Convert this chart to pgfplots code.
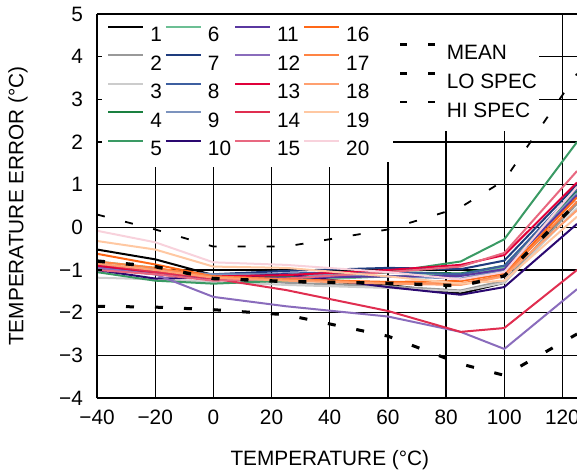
\documentclass[border=0pt]{standalone}
\usepackage{fontspec}
\setmainfont{Liberation Sans}
\usepackage{pgfplots}
\usepackage{pgfplotstable}
\pgfplotsset{compat=1.18}

\definecolor{c1}{HTML}{000000}
\definecolor{c2}{HTML}{999999}
\definecolor{c3}{HTML}{CCCCCC}
\definecolor{c4}{HTML}{1A8040}
\definecolor{c5}{HTML}{3A9A64}
\definecolor{c6}{HTML}{6CBF94}
\definecolor{c7}{HTML}{1E3C7E}
\definecolor{c8}{HTML}{3D5FA0}
\definecolor{c9}{HTML}{7C93BE}
\definecolor{c10}{HTML}{2A0870}
\definecolor{c11}{HTML}{5A38A0}
\definecolor{c12}{HTML}{8A6CBC}
\definecolor{c13}{HTML}{E0003A}
\definecolor{c14}{HTML}{E02E50}
\definecolor{c15}{HTML}{E86880}
\definecolor{c16}{HTML}{FF6818}
\definecolor{c17}{HTML}{FF8444}
\definecolor{c18}{HTML}{FFA070}
\definecolor{c19}{HTML}{FFC8A2}
\definecolor{c20}{HTML}{F8D2DC}

% temperature error of 20 parts, plus mean and spec limits
\pgfplotstableread{
T    s1    s2    s3    s4    s5    s6    s7    s8    s9    s10   s11   s12   s13   s14   s15   s16   s17   s18   s19   s20   mean  lo    hi
-40  -0.52 -0.95 -1.18 -0.90 -1.05 -0.80 -0.90 -0.95 -0.88 -1.00 -0.95 -0.95 -0.90 -0.85 -1.00 -0.62 -0.80 -0.85 -0.32 -0.08 -0.79 -1.85 0.30
-20  -0.75 -1.05 -1.22 -1.05 -1.25 -0.95 -1.00 -1.05 -1.00 -1.20 -1.10 -1.10 -1.05 -1.05 -1.10 -0.87 -0.95 -1.00 -0.52 -0.35 -0.92 -1.87 -0.05
0    -1.12 -1.20 -1.28 -1.15 -1.32 -1.20 -1.10 -1.12 -1.10 -1.18 -1.20 -1.63 -1.15 -1.20 -1.25 -1.15 -1.15 -1.18 -0.92 -0.82 -1.20 -1.93 -0.45
25   -1.22 -1.30 -1.35 -1.15 -1.25 -1.25 -1.02 -1.08 -1.10 -1.10 -1.18 -1.85 -1.12 -1.47 -1.20 -1.22 -1.22 -1.25 -0.95 -0.88 -1.27 -2.05 -0.45
60   -1.35 -1.38 -1.42 -1.05 -1.05 -1.15 -0.95 -1.05 -1.15 -1.40 -1.15 -2.09 -1.00 -1.96 -1.05 -1.28 -1.30 -1.32 -1.15 -1.05 -1.31 -2.55 -0.05
85   -1.55 -1.48 -1.50 -1.08 -0.80 -1.10 -0.98 -1.10 -1.20 -1.58 -1.14 -2.45 -0.88 -2.45 -0.92 -1.26 -1.32 -1.35 -1.32 -1.22 -1.37 -3.20 0.47
100  -1.30 -1.25 -1.30 -0.90 -0.28 -0.95 -0.78 -0.90 -1.00 -1.40 -0.98 -2.85 -0.65 -2.36 -0.60 -1.08 -1.12 -1.15 -1.25 -1.05 -1.14 -3.47 1.10
125  0.60  0.55  0.45  0.85  2.00  0.80  1.00  0.90  0.80  0.08  0.75  -1.45 1.05  -1.00 1.32  0.70  0.60  0.40  0.25  0.95  0.58  -2.50 3.60
}\errdata

\begin{document}
\begin{tikzpicture}[font=\fontsize{10.4}{12}\selectfont]
\pgfplotsset{
  common/.style={width=240pt, height=192pt, scale only axis,
    xmin=-40, xmax=125, ymin=-4, ymax=5,
    xtick={-40,-20,0,20,40,60,80,100,120}, ytick={-4,-3,-2,-1,0,1,2,3,4,5}},
}
\begin{axis}[common,
  grid=major, grid style={black, line width=0.6pt},
  major tick length=0pt, axis line style={draw=none},
  xticklabels={−40,−20,0,20,40,60,80,100,120},
  yticklabels={−4,−3,−2,−1,0,1,2,3,4,5},
  xticklabel style={yshift=-2.5pt},
  yticklabel style={xshift=-3.5pt},
  xlabel={TEMPERATURE (°C)}, ylabel={TEMPERATURE ERROR (°C)},
  xlabel style={at={(axis description cs:0.485,-0.1615)}, anchor=center},
  ylabel style={at={(axis description cs:-0.1646,0.5)}, anchor=center},
  legend columns=5, transpose legend,
  legend cell align=left,
  legend style={at={(axis description cs:0,1)}, anchor=north west,
    draw=none, fill=white, inner xsep=5pt, inner ysep=5.75pt, row sep=6.25pt,
    nodes={inner sep=0pt, text height=7.5pt, text depth=0pt},
    /tikz/every odd column/.append style={column sep=3pt},
    /tikz/every even column/.append style={column sep=1.5pt}},
  legend image code/.code={\draw[#1] (0pt,3.75pt) -- (17.5pt,3.75pt);},
  every axis plot/.append style={line width=1pt},
]
% white patch behind the legend, so that it hides the grid up to x = 61.6
\fill[white] (axis cs:-40,1.53) rectangle (axis cs:61.6,5);
\addplot[c1]  table[x=T, y=s1]  {\errdata}; \addlegendentry{1}
\addplot[c2]  table[x=T, y=s2]  {\errdata}; \addlegendentry{2}
\addplot[c3]  table[x=T, y=s3]  {\errdata}; \addlegendentry{3}
\addplot[c4]  table[x=T, y=s4]  {\errdata}; \addlegendentry{4}
\addplot[c5]  table[x=T, y=s5]  {\errdata}; \addlegendentry{5}
\addplot[c6]  table[x=T, y=s6]  {\errdata}; \addlegendentry{6}
\addplot[c7]  table[x=T, y=s7]  {\errdata}; \addlegendentry{7}
\addplot[c8]  table[x=T, y=s8]  {\errdata}; \addlegendentry{8}
\addplot[c9]  table[x=T, y=s9]  {\errdata}; \addlegendentry{9}
\addplot[c10] table[x=T, y=s10] {\errdata}; \addlegendentry{10}
\addplot[c11] table[x=T, y=s11] {\errdata}; \addlegendentry{11}
\addplot[c12] table[x=T, y=s12] {\errdata}; \addlegendentry{12}
\addplot[c13] table[x=T, y=s13] {\errdata}; \addlegendentry{13}
\addplot[c14] table[x=T, y=s14] {\errdata}; \addlegendentry{14}
\addplot[c15] table[x=T, y=s15] {\errdata}; \addlegendentry{15}
\addplot[c16] table[x=T, y=s16] {\errdata}; \addlegendentry{16}
\addplot[c17] table[x=T, y=s17] {\errdata}; \addlegendentry{17}
\addplot[c18] table[x=T, y=s18] {\errdata}; \addlegendentry{18}
\addplot[c19] table[x=T, y=s19] {\errdata}; \addlegendentry{19}
\addplot[c20] table[x=T, y=s20] {\errdata}; \addlegendentry{20}
\coordinate (sw) at (rel axis cs:0,0);
\end{axis}

% second layer: mean and spec limits, frame and inward ticks
\begin{axis}[common, axis on top,
  axis x line=box, axis y line=left, axis line style={-, line width=1pt},
  xtick=\empty, yticklabels={},
  tick align=inside, major tick length=2.5pt, tick style={black, line width=0.6pt},
  legend cell align=left,
  legend style={at={(axis description cs:0.6167,1)}, anchor=north west,
    draw=none, fill=none, inner xsep=2.5pt, inner ysep=14.25pt, row sep=6.25pt,
    nodes={inner sep=0pt, text height=7.5pt, text depth=0pt},
    /tikz/every odd column/.append style={column sep=5pt}},
  legend image code/.code={\draw[#1, dash pattern=on 3.5pt off 10.5pt] (0pt,3.75pt) -- (17.5pt,3.75pt);},
]
\fill[white] (axis cs:61.6,2.25) rectangle (axis cs:112.1,4.97);
\addplot[black, line width=1.7pt, dash pattern=on 4pt off 10.5pt] table[x=T, y=mean] {\errdata}; \addlegendentry{MEAN}
\addplot[black, line width=1.5pt, dash pattern=on 4pt off 10.5pt] table[x=T, y=lo] {\errdata}; \addlegendentry{LO SPEC}
\addplot[black, line width=0.9pt, dash pattern=on 4pt off 10.5pt] table[x=T, y=hi] {\errdata}; \addlegendentry{HI SPEC}
\end{axis}
\pgfresetboundingbox
\path ([xshift=-48.5pt,yshift=-37pt]sw) rectangle ([xshift=240pt,yshift=199pt]sw);
\end{tikzpicture}
\end{document}
